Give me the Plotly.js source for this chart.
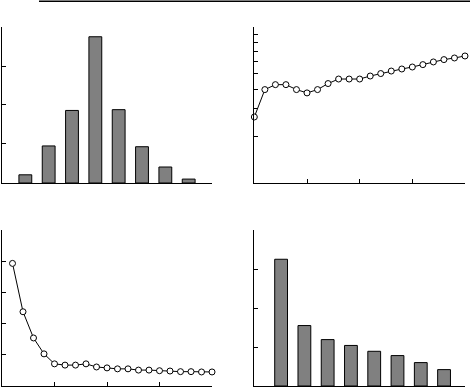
<!DOCTYPE html>
<html>
<head>
<meta charset="utf-8">
<script src="https://cdn.plot.ly/plotly-3.0.1.min.js"></script>
<style>html,body{margin:0;padding:0;background:#fff;}#chart{width:470px;height:387px;}</style>
</head>
<body>
<div id="chart"></div>
<script>
// Top-left: bar distribution
const tlCategories = [1, 2, 3, 4, 5, 6, 7, 8];
const tlValues = [2.1, 9.5, 18.6, 37.5, 18.8, 9.3, 4.1, 1.0];

// Top-right: log-scale line series
const trX = [0,1,2,3,4,5,6,7,8,9,10,11,12,13,14,15,16,17,18,19,20];
const trY = [26.5, 39.7, 42.7, 42.7, 39.7, 37.8, 39.7, 43.4, 46.4, 46.4, 46.4, 48.5, 50.3, 52.2, 53.8, 55.4, 57.4, 59.7, 61.8, 63.3, 65.2];

// Bottom-left: decaying line series
const blX = [1,2,3,4,5,6,7,8,9,10,11,12,13,14,15,16,17,18,19,20];
const blY = [3.93, 2.38, 1.54, 1.03, 0.71, 0.67, 0.67, 0.71, 0.61, 0.58, 0.55, 0.55, 0.51, 0.51, 0.49, 0.48, 0.46, 0.46, 0.45, 0.45];

// Bottom-right: decreasing bars
const brCategories = [1, 2, 3, 4, 5, 6, 7, 8];
const brValues = [32.5, 15.5, 11.9, 10.4, 8.9, 7.8, 6.0, 4.2];

const barStyle = {color: '#808080', line: {color: '#000', width: 1}};
const lineStyle = {color: '#000', width: 1};
const markerStyle = {symbol: 'circle', size: 6, color: '#fff', line: {color: '#000', width: 1}};

const traces = [
  {type: 'bar', x: tlCategories, y: tlValues, width: 0.55, marker: barStyle, xaxis: 'x', yaxis: 'y'},
  {type: 'scatter', mode: 'lines+markers', x: trX, y: trY, line: lineStyle, marker: markerStyle, xaxis: 'x2', yaxis: 'y2', cliponaxis: false},
  {type: 'scatter', mode: 'lines+markers', x: blX, y: blY, line: lineStyle, marker: markerStyle, xaxis: 'x3', yaxis: 'y3', cliponaxis: false},
  {type: 'bar', x: brCategories, y: brValues, width: 0.55, marker: barStyle, xaxis: 'x4', yaxis: 'y4'}
];

const ax = (extra) => Object.assign({
  showline: true, linecolor: '#000', linewidth: 1,
  ticks: 'inside', ticklen: 4, tickwidth: 1, tickcolor: '#000',
  showticklabels: false, showgrid: false, zeroline: false, fixedrange: true
}, extra);

const L = [0, 0.4536], R = [0.545, 1];
const T = [0.5655, 1], B = [0, 0.4345];

const layout = {
  width: 470, height: 387,
  margin: {l: 2, r: 5, t: 27, b: 1, pad: 0},
  paper_bgcolor: '#fff', plot_bgcolor: '#fff',
  showlegend: false,
  bargap: 0.45,
  xaxis: ax({domain: L, anchor: 'y', range: [0, 9], tickvals: [0, 9]}),
  yaxis: ax({domain: T, anchor: 'x', range: [0, 40], tickvals: [0, 10, 20, 30, 40]}),
  xaxis2: ax({domain: R, anchor: 'y2', range: [0, 20], tickvals: [0, 5, 10, 15, 20]}),
  yaxis2: ax({domain: T, anchor: 'x2', type: 'log', range: [1, 2], tickvals: [10, 20, 30, 40, 50, 60, 70, 80, 90, 100]}),
  xaxis3: ax({domain: L, anchor: 'y3', range: [0, 20], tickvals: [0, 5, 10, 15, 20]}),
  yaxis3: ax({domain: B, anchor: 'x3', range: [0, 5], tickvals: [0, 1, 2, 3, 4, 5]}),
  xaxis4: ax({domain: R, anchor: 'y4', range: [-0.15, 8.9], tickvals: [8.9]}),
  yaxis4: ax({domain: B, anchor: 'x4', range: [0, 40], tickvals: [0, 10, 20, 30, 40]}),
  shapes: [
    {type: 'line', xref: 'paper', yref: 'paper', x0: 0.0799, x1: 1.011, y0: 1.0716, y1: 1.0716, line: {color: '#000', width: 1.5}}
  ]
};

Plotly.newPlot('chart', traces, layout, {displayModeBar: false, staticPlot: true});
</script>
</body>
</html>
